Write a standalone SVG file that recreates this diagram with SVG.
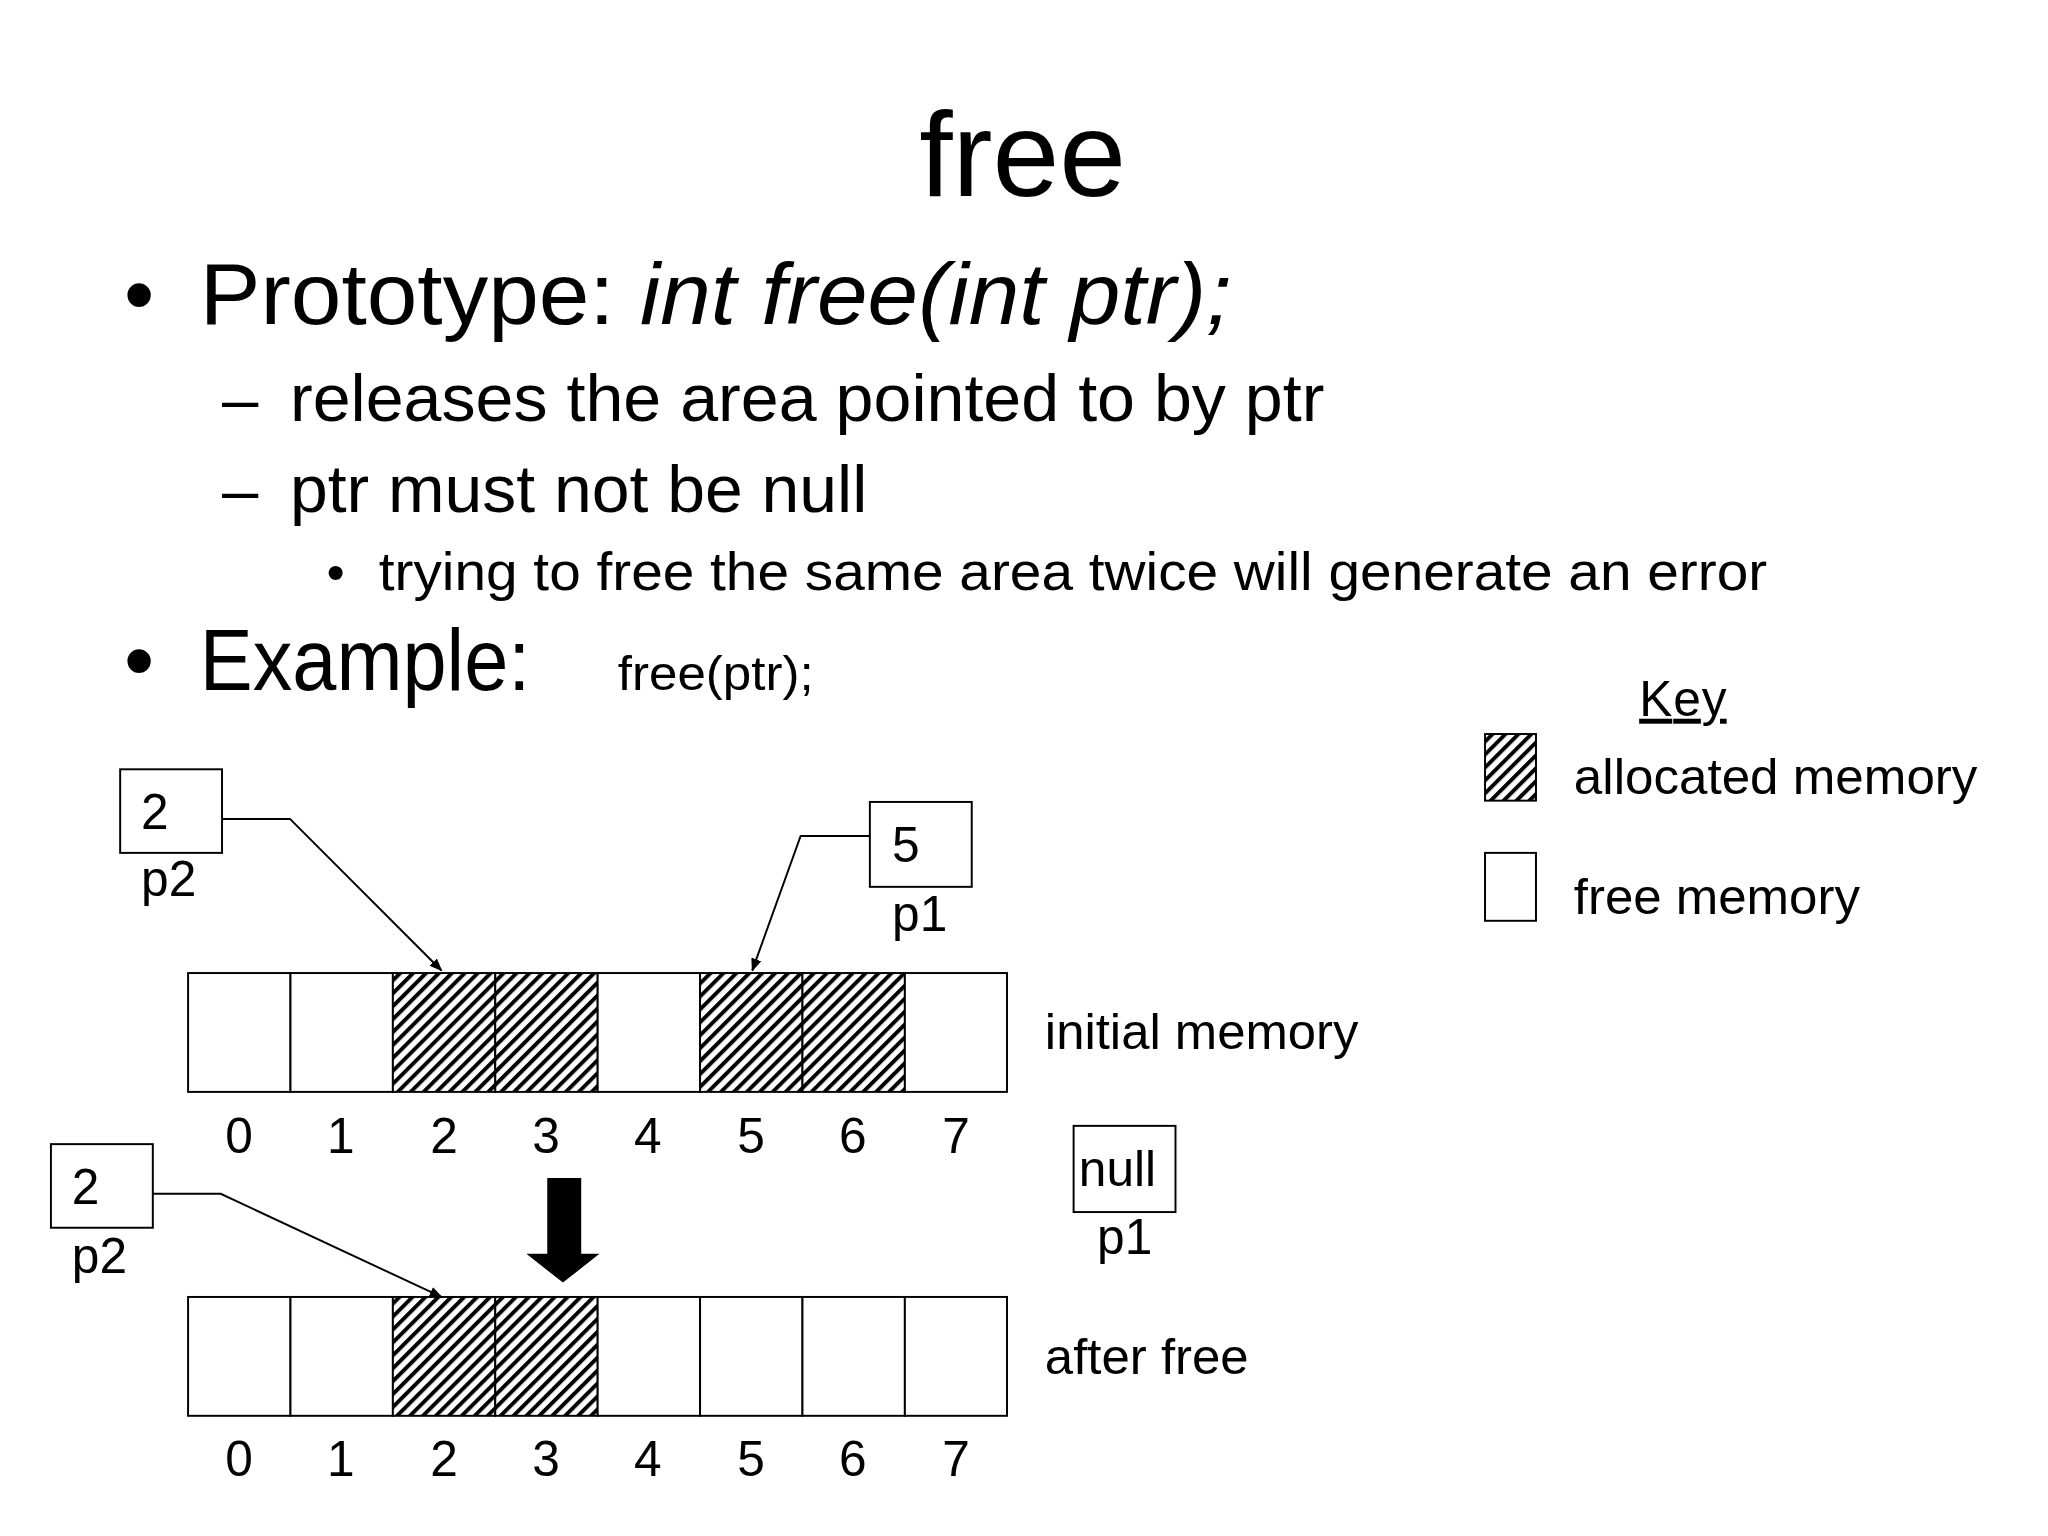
<svg xmlns="http://www.w3.org/2000/svg" width="2048" height="1536" viewBox="0 0 2048 1536">
<defs>
<pattern id="hatch" patternUnits="userSpaceOnUse" width="7" height="7" patternTransform="rotate(45)">
<rect width="7" height="7" fill="#fff"/><rect x="0" y="0" width="3" height="7" fill="#000"/>
</pattern>
<marker id="ah" markerWidth="10" markerHeight="10" refX="9" refY="5" orient="auto" markerUnits="userSpaceOnUse"><path d="M0,1 L10,5 L0,9 Z" fill="#000"/></marker>
</defs>
<style>
text{font-family:"Liberation Sans",Arial,sans-serif;fill:#000}
.b{fill:#fff;stroke:#000;stroke-width:1.5}
.h{fill:url(#hatch)}
.ln{fill:none;stroke:#000;stroke-width:1.5}
.d{font-size:38px;text-anchor:middle}
.l{font-size:38px}
</style>
<rect width="2048" height="1536" fill="#fff"/>
<g transform="scale(1.3061)">
<g id="text">
<text x="783" y="150" font-size="92" text-anchor="middle">free</text>
<text x="95" y="248" font-size="66">•</text>
<text x="153" y="248" font-size="67" textLength="790" lengthAdjust="spacingAndGlyphs">Prototype: <tspan font-style="italic">int free(int ptr);</tspan></text>
<text x="170" y="322" font-size="50">–</text><text x="222" y="322" font-size="51" textLength="792" lengthAdjust="spacingAndGlyphs">releases the area pointed to by ptr</text>
<text x="170" y="392" font-size="50">–</text><text x="222" y="392" font-size="51" textLength="442" lengthAdjust="spacingAndGlyphs">ptr must not be null</text>
<text x="250" y="452" font-size="40">•</text><text x="290" y="452" font-size="41" textLength="1063" lengthAdjust="spacingAndGlyphs">trying to free the same area twice will generate an error</text>
<text x="95" y="528" font-size="66">•</text><text x="153" y="528" font-size="66" textLength="253" lengthAdjust="spacingAndGlyphs">Example:</text>
<text x="473" y="528" font-size="37" textLength="150" lengthAdjust="spacingAndGlyphs">free(ptr);</text>
</g>
<g id="key">
<text x="1255" y="548" class="l" text-decoration="underline" textLength="67">Key</text>
<rect x="1137" y="562" width="39" height="51" class="b h"/>
<rect x="1137" y="653" width="39" height="52" class="b"/>
<text x="1205" y="608" class="l" textLength="309" lengthAdjust="spacingAndGlyphs">allocated memory</text>
<text x="1205" y="700" class="l" textLength="219" lengthAdjust="spacingAndGlyphs">free memory</text>
</g>
<g id="mem1">
<rect x="144" y="745" width="78.4" height="91" class="b"/>
<rect x="222.4" y="745" width="78.4" height="91" class="b"/>
<rect x="300.8" y="745" width="78.4" height="91" class="b h"/>
<rect x="379.2" y="745" width="78.4" height="91" class="b h"/>
<rect x="457.6" y="745" width="78.4" height="91" class="b"/>
<rect x="536" y="745" width="78.4" height="91" class="b h"/>
<rect x="614.4" y="745" width="78.4" height="91" class="b h"/>
<rect x="692.8" y="745" width="78.2" height="91" class="b"/>
<text class="d" y="883"><tspan x="183">0</tspan><tspan x="261">1</tspan><tspan x="340">2</tspan><tspan x="418">3</tspan><tspan x="496">4</tspan><tspan x="575">5</tspan><tspan x="653">6</tspan><tspan x="732">7</tspan></text>
<text x="800" y="803" class="l" textLength="240" lengthAdjust="spacingAndGlyphs">initial memory</text>
</g>
<g id="mem2">
<rect x="144" y="993" width="78.4" height="91" class="b"/>
<rect x="222.4" y="993" width="78.4" height="91" class="b"/>
<rect x="300.8" y="993" width="78.4" height="91" class="b h"/>
<rect x="379.2" y="993" width="78.4" height="91" class="b h"/>
<rect x="457.6" y="993" width="78.4" height="91" class="b"/>
<rect x="536" y="993" width="78.4" height="91" class="b"/>
<rect x="614.4" y="993" width="78.4" height="91" class="b"/>
<rect x="692.8" y="993" width="78.2" height="91" class="b"/>
<text class="d" y="1130"><tspan x="183">0</tspan><tspan x="261">1</tspan><tspan x="340">2</tspan><tspan x="418">3</tspan><tspan x="496">4</tspan><tspan x="575">5</tspan><tspan x="653">6</tspan><tspan x="732">7</tspan></text>
<text x="800" y="1052" class="l" textLength="156" lengthAdjust="spacingAndGlyphs">after free</text>
</g>
<g id="p2a"><rect x="92" y="589" width="78" height="64" class="b"/><text x="108" y="635" class="l">2</text><text x="108" y="686" class="l">p2</text></g>
<g id="p1a"><rect x="666" y="614" width="78" height="65" class="b"/><text x="683" y="660" class="l">5</text><text x="683" y="713" class="l">p1</text></g>
<g id="p2b"><rect x="39" y="876" width="78" height="64" class="b"/><text x="55" y="922" class="l">2</text><text x="55" y="975" class="l">p2</text></g>
<g id="p1b"><rect x="822" y="862" width="78" height="66" class="b"/><text x="826" y="908" class="l">null</text><text x="840" y="960" class="l">p1</text></g>
<g id="connectors">
<polyline points="170,627 222,627 338,743" class="ln" marker-end="url(#ah)"/>
<polyline points="666,640 613,640 576,743" class="ln" marker-end="url(#ah)"/>
<polyline points="117,914 169,914 338,993" class="ln" marker-end="url(#ah)"/>
<path d="M419,902 H445 V960 H459 L431,982 L403,960 H419 Z" fill="#000"/>
</g>
</g>
</svg>
